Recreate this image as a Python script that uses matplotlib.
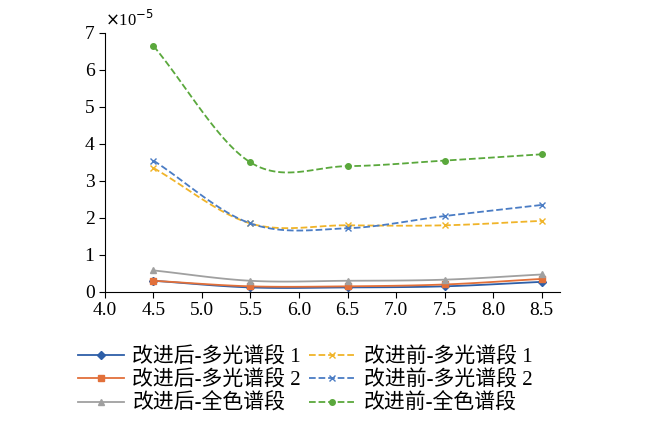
import numpy as np
import matplotlib.pyplot as plt

plt.rcParams['font.family'] = ['Liberation Serif', 'Noto Sans CJK SC']

x = [4.5, 5.5, 6.5, 7.5, 8.5]
after_ms1 = [0.30, 0.12, 0.12, 0.15, 0.27]
after_ms2 = [0.30, 0.15, 0.15, 0.20, 0.35]
after_pan = [0.58, 0.30, 0.30, 0.33, 0.47]
before_ms1 = [3.35, 1.85, 1.80, 1.80, 1.92]
before_ms2 = [3.55, 1.85, 1.72, 2.05, 2.35]
before_pan = [6.65, 3.50, 3.40, 3.55, 3.72]


def smooth(xs, ys, n=30):
    # Catmull-Rom curve through the points, like a spreadsheet "smoothed line"
    xs = np.asarray(xs, float); ys = np.asarray(ys, float)
    px = np.r_[2 * xs[0] - xs[1], xs, 2 * xs[-1] - xs[-2]]
    py = np.r_[2 * ys[0] - ys[1], ys, 2 * ys[-1] - ys[-2]]
    ox, oy = [], []
    for i in range(1, len(px) - 2):
        t = np.linspace(0, 1, n)
        for p, o in ((px, ox), (py, oy)):
            p0, p1, p2, p3 = p[i - 1:i + 3]
            o.extend(0.5 * (2 * p1 + (-p0 + p2) * t + (2 * p0 - 5 * p1 + 4 * p2 - p3) * t**2
                            + (-p0 + 3 * p1 - 3 * p2 + p3) * t**3))
    return ox, oy


fig = plt.figure(figsize=(6.5, 4.23), dpi=100)
ax = fig.add_axes([0.1615, 0.31, 0.70, 0.612])

series = [
    ('改进后-多光谱段 1', after_ms1, '#2e5fa8', '-', 'D', 4),
    ('改进后-多光谱段 2', after_ms2, '#e2703a', '-', 's', 4),
    ('改进后-全色谱段', after_pan, '#a0a0a0', '-', '^', 4),
    ('改进前-多光谱段 1', before_ms1, '#f0b429', '--', 'x', 5),
    ('改进前-多光谱段 2', before_ms2, '#4a7cc4', '--', 'x', 5),
    ('改进前-全色谱段', before_pan, '#5aa83c', '--', 'o', 4),
]
for label, ys, c, ls, m, ms in series:
    sx, sy = smooth(x, ys)
    ax.plot(sx, sy, color=c, ls=ls, lw=1.3)
    ax.plot(x, ys, ls='none', marker=m, color=c, ms=ms)
    ax.plot([], [], color=c, ls=ls, marker=m, ms=ms, lw=1.3, label=label)

ax.set_xlim(4.0, 8.69)
ax.set_ylim(0, 7)
ax.set_xticks(np.arange(4.0, 8.51, 0.5))
ax.set_xticklabels([f'{v:.1f}' for v in np.arange(4.0, 8.51, 0.5)])
ax.set_yticks(range(8))
ax.tick_params(labelsize=14, direction='out', length=4)
for s in ('top', 'right'):
    ax.spines[s].set_visible(False)
ax.text(0.0, 1.01, r'$\times$10$^{-5}$', transform=ax.transAxes, fontsize=12, va='bottom')

ax.legend(loc='upper center', bbox_to_anchor=(0.44, -0.14), ncol=2, frameon=False,
          fontsize=15, handlelength=2.2, columnspacing=0.4, labelspacing=0.15, handletextpad=0.4)
fig.savefig('out.png')
